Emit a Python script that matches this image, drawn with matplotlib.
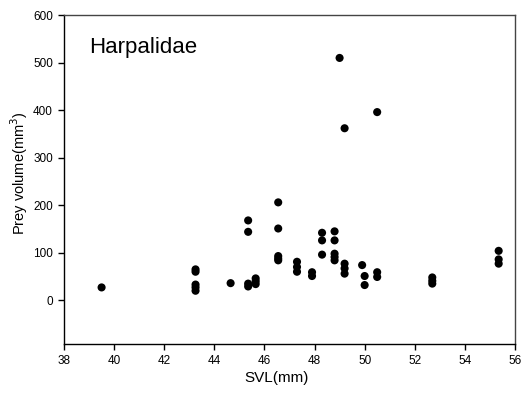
import matplotlib

matplotlib.use("Agg")

from matplotlib import pyplot as plt  # noqa: E402

plt.rcParams["font.family"] = ["Liberation Sans", "DejaVu Sans"]

# snout-vent length (mm) and prey volume (mm^3)
svl = [
    39.5,
    43.25, 43.25, 43.25, 43.25, 43.25,
    44.65,
    45.35, 45.35, 45.35, 45.35,
    45.65, 45.65, 45.65,
    46.55, 46.55, 46.55, 46.55, 46.55,
    47.3, 47.3, 47.3,
    47.9, 47.9,
    48.3, 48.3, 48.3,
    48.8, 48.8, 48.8, 48.8, 48.8,
    49.2, 49.2, 49.2, 49.2,
    49.0,
    49.9, 50.0, 50.0,
    50.5, 50.5, 50.5,
    52.7, 52.7, 52.7,
    55.35, 55.35, 55.35,
]
volume = [
    27,
    65, 60, 33, 27, 20,
    36,
    168, 144, 35, 29,
    46, 40, 34,
    206, 151, 93, 88, 84,
    81, 70, 60,
    59, 51,
    142, 126, 96,
    145, 126, 98, 91, 84,
    77, 67, 56, 362,
    510,
    74, 51, 32,
    59, 49, 396,
    48, 41, 35,
    104, 86, 77,
]

x_ticks = list(range(38, 57, 2))
y_ticks = list(range(0, 601, 100))

figure = plt.figure(figsize=(5.26, 3.94), dpi=100)
axis = figure.add_axes([0.1217, 0.127, 0.8573, 0.8357])
axis.scatter(svl, volume, s=34, color="black", edgecolors="none", zorder=3)

axis.set_xlim(38, 56)
axis.set_ylim(-92, 601)
axis.set_xticks(x_ticks)
axis.set_yticks(y_ticks)
axis.tick_params(axis="both", direction="out", length=4, width=1, labelsize=8.5, pad=4)
axis.tick_params(top=False, right=False)
for side in ("top", "right"):
    axis.spines[side].set_color("#444444")
for spine in axis.spines.values():
    spine.set_linewidth(1)

axis.set_xlabel("SVL(mm)", fontsize=11)
axis.set_ylabel("Prey volume(mm$^3$)", fontsize=10.5)
axis.xaxis.set_label_coords(0.472, -0.083)
axis.yaxis.set_label_coords(-0.075, 0.52)
axis.text(0.055, 0.9, "Harpalidae", transform=axis.transAxes, fontsize=16,
          ha="left", va="center")

figure.savefig("out.png", dpi=100)
